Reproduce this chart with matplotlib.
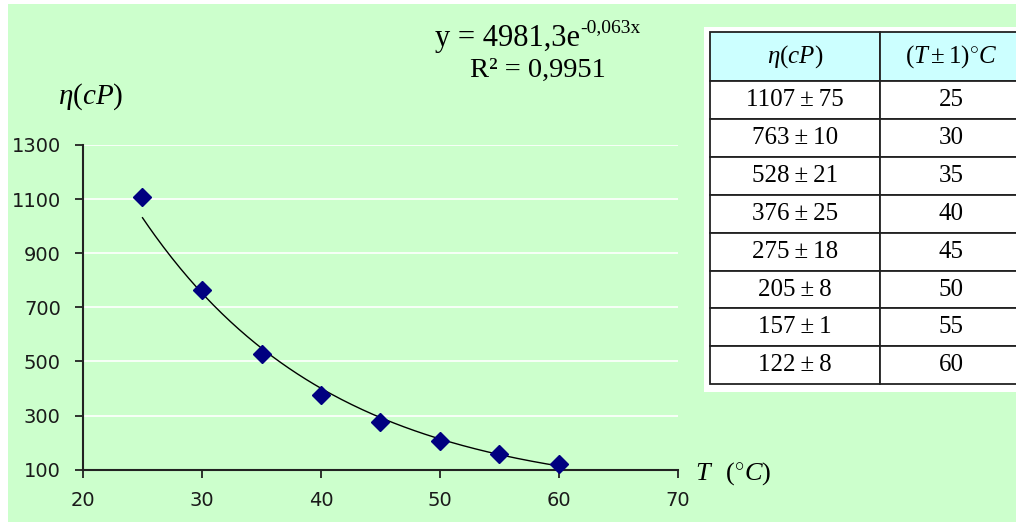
import numpy as np
import matplotlib
matplotlib.use("Agg")
import matplotlib.pyplot as plt
from matplotlib.patches import Rectangle

# viscosity measurements vs temperature
temps = [25, 30, 35, 40, 45, 50, 55, 60]
eta = [1107, 763, 528, 376, 275, 205, 157, 122]
eta_err = [75, 10, 21, 25, 18, 8, 1, 8]

# exponential trendline y = a*exp(b*x)
fit_a = 4981.3
fit_b = -0.063
r2_text = "R² = 0,9951"

x_ticks = [20, 30, 40, 50, 60, 70]
y_ticks = [100, 300, 500, 700, 900, 1100, 1300]

plt.rcParams["mathtext.fontset"] = "custom"
plt.rcParams["mathtext.rm"] = "Liberation Serif"
plt.rcParams["mathtext.it"] = "Liberation Serif:italic"
plt.rcParams["mathtext.bf"] = "Liberation Serif:bold"

W, H = 1016, 522
fig = plt.figure(figsize=(W / 100, H / 100), dpi=100)
fig.patch.set_facecolor("white")
fig.add_artist(Rectangle((8 / W, 0), 1, 1 - 4 / H, transform=fig.transFigure,
                         facecolor="#ccffcc", edgecolor="none", zorder=-10))

ax = fig.add_axes([83 / W, 1 - 469.7 / H, 595 / W, (469.7 - 145) / H])
ax.set_facecolor("none")
ax.set_xlim(20, 70)
ax.set_ylim(100, 1300)
ax.set_xticks(x_ticks)
ax.set_yticks(y_ticks)
ax.grid(axis="y", color="white", linewidth=1.2)
ax.set_axisbelow(True)
for side in ["top", "right"]:
    ax.spines[side].set_visible(False)
for side in ["left", "bottom"]:
    ax.spines[side].set_color("#222222")
    ax.spines[side].set_linewidth(1.5)
ax.tick_params(direction="out", length=6, width=1.3, color="#222222",
               labelsize=14, labelcolor="#1a1a1a")
ax.tick_params(axis="y", pad=10)
ax.tick_params(axis="x", pad=9)

# trendline and data points
xs = np.linspace(temps[0], temps[-1], 200)
ax.plot(xs, fit_a * np.exp(fit_b * xs), color="black", linewidth=1.0, zorder=2)
ax.plot(temps, eta, linestyle="none", marker="D", markersize=9,
        color="#000080", zorder=3, clip_on=False)

# axis titles
fig.text(58 / W, 1 - 104 / H, r"$\eta(cP)$", fontsize=21)
fig.text(695 / W, 1 - 480 / H, r"$T\;\;\;(^{\circ}C)$", fontsize=19)

# trendline equation
serif = "Liberation Serif"
eq = fig.text(435 / W, 1 - 46 / H, "y = 4981,3e", fontsize=22, family=serif)
ax.annotate("-0,063x", xy=(1, 0.6), xycoords=eq, fontsize=14, family=serif,
            va="bottom", ha="left", annotation_clip=False)
fig.text(470 / W, 1 - 77 / H, r2_text, fontsize=20.5, family=serif)

# data table on a white panel
fig.add_artist(Rectangle((704 / W, 1 - 392 / H), 1, (392 - 26.7) / H,
                         transform=fig.transFigure, facecolor="white",
                         edgecolor="none", zorder=-5))
tax = fig.add_axes([710 / W, 1 - 384.3 / H, (1022 - 710) / W, (384.3 - 32) / H])
tax.axis("off")
cells = [[f"{v}\u2009±\u2009{e}", str(t)] for v, e, t in zip(eta, eta_err, temps)]
tbl = tax.table(cellText=cells, colLabels=[r"$\eta(cP)$", r"$(T\pm1)^{\circ}C$"],
                cellLoc="center", bbox=[0, 0, 1, 1])
tbl.auto_set_font_size(False)
for (r, c), cell in tbl.get_celld().items():
    cell.set_edgecolor("#222222")
    cell.set_linewidth(1.3)
    cell.set_height(49 if r == 0 else 37.9)
    cell.set_width(170 if c == 0 else 142)
    txt = cell.get_text()
    txt.set_fontsize(18)
    txt.set_fontfamily(serif)
    if r == 0:
        cell.set_facecolor("#ccffff")
    else:
        cell.set_facecolor("white")

fig.savefig("out.png", dpi=100)
